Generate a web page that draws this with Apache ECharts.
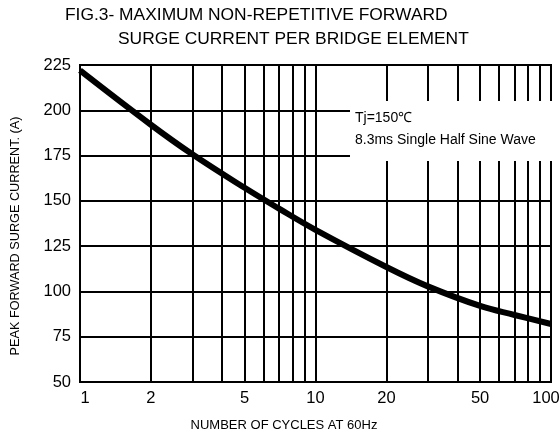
<!DOCTYPE html>
<html>
<head>
<meta charset="utf-8">
<script src="https://cdn.jsdelivr.net/npm/echarts@6/dist/echarts.min.js"></script>
<style>html,body{margin:0;padding:0;background:#fff}#c{width:559px;height:434px}</style>
</head>
<body>
<div id="c"></div>
<script>
// ---- data ----
var cycles = [1, 2, 3, 5, 7, 10, 20, 30, 50, 70, 100];
var surgeCurrent = [222, 192, 175.7, 157.2, 145.7, 134, 113.5, 102.8, 92, 87, 82];
var xGridValues = [2, 3, 4, 5, 6, 7, 8, 9, 10, 20, 30, 40, 50, 60, 70, 80, 90];
var xTickLabels = [1, 2, 5, 10, 20, 50, 100];
var yTickLabels = [50, 75, 100, 125, 150, 175, 200, 225];
var titleLines = ['FIG.3- MAXIMUM NON-REPETITIVE FORWARD', 'SURGE CURRENT PER BRIDGE ELEMENT'];
var noteLines = ['Tj=150\u2103', '8.3ms Single Half Sine Wave'];
var xName = 'NUMBER OF CYCLES AT 60Hz';
var yName = 'PEAK FORWARD SURGE CURRENT. (A)';

var FONT = '"Liberation Sans", Arial, Helvetica, sans-serif';
var chart = echarts.init(document.getElementById('c'), null, {renderer: 'canvas'});

var lineData = cycles.map(function (c, i) { return [c, surgeCurrent[i]]; });

// vertical grid lines + x labels through markLine on the log axis
var allX = [1].concat(xGridValues).concat([100]);
var mlData = allX.map(function (v) {
  var labeled = xTickLabels.indexOf(v) >= 0;
  var pad = v === 1 ? [0, 0, 0, 10] : (v === 100 ? [0, 10, 0, 0] : 0);
  return {
    xAxis: v,
    lineStyle: {color: '#000', width: 2, type: 'solid'},
    label: {show: labeled, formatter: String(v), position: 'start', distance: 8,
      padding: pad, color: '#000', fontSize: 16.5, fontFamily: FONT}
  };
});

var option = {
  animation: false,
  backgroundColor: '#fff',
  grid: {left: 80, right: 8, top: 65, bottom: 52, show: true, borderColor: '#000', borderWidth: 2, backgroundColor: 'transparent'},
  xAxis: {
    type: 'log', logBase: 10, min: 1, max: 100,
    axisLine: {show: true, lineStyle: {color: '#000', width: 2}},
    axisTick: {show: false},
    axisLabel: {show: false},
    splitLine: {show: false}
  },
  yAxis: {
    type: 'value', min: 50, max: 225, interval: 25,
    axisLine: {show: true, lineStyle: {color: '#000', width: 2}},
    axisTick: {show: false},
    axisLabel: {color: '#000', fontSize: 16.5, fontFamily: FONT, margin: 9,
      formatter: function (v) { return yTickLabels.indexOf(v) >= 0 ? String(v) : ''; }},
    splitLine: {show: true, lineStyle: {color: '#000', width: 2}}
  },
  series: [{
    type: 'line',
    data: lineData,
    smooth: 0.4,
    symbol: 'none',
    lineStyle: {color: '#000', width: 6},
    z: 5,
    markLine: {
      silent: true,
      symbol: ['none', 'none'],
      animation: false,
      z: 1,
      data: mlData
    }
  }],
  graphic: [
    {type: 'text', left: 65, top: 7, z: 100,
      style: {text: titleLines[0], fontSize: 17.4, fontFamily: FONT, fill: '#000'}},
    {type: 'text', left: 118, top: 31, z: 100,
      style: {text: titleLines[1], fontSize: 17.4, fontFamily: FONT, fill: '#000'}},
    {type: 'rect', shape: {x: 350, y: 101, width: 203, height: 60}, z: 100,
      style: {fill: '#fff', stroke: null}},
    {type: 'text', left: 355, top: 111, z: 101,
      style: {text: noteLines[0], fontSize: 14, fontFamily: FONT, fill: '#000'}},
    {type: 'text', left: 355, top: 133, z: 101,
      style: {text: noteLines[1], fontSize: 14, fontFamily: FONT, fill: '#000'}},
    {type: 'text', x: 284, y: 425, z: 100,
      style: {text: xName, fontSize: 13, fontFamily: FONT, fill: '#000', align: 'center', verticalAlign: 'middle'}},
    {type: 'text', x: 15, y: 236, rotation: Math.PI / 2, z: 100,
      style: {text: yName, fontSize: 12.7, fontFamily: FONT, fill: '#000', align: 'center', verticalAlign: 'middle'}}
  ]
};
chart.setOption(option);
</script>
</body>
</html>
